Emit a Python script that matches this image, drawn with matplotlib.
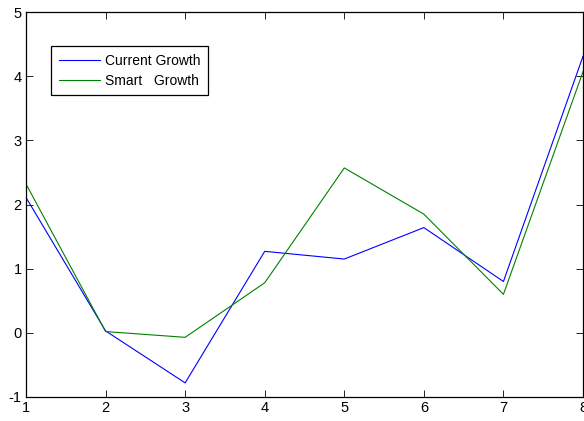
import matplotlib
matplotlib.use("Agg")
import matplotlib.pyplot as plt

# values
x = [1, 2, 3, 4, 5, 6, 7, 8]
current = [2.11, 0.03, -0.78, 1.27, 1.15, 1.64, 0.80, 4.31]
smart = [2.32, 0.02, -0.07, 0.78, 2.57, 1.85, 0.60, 4.07]

xticks = [1, 2, 3, 4, 5, 6, 7, 8]
yticks = [-1, 0, 1, 2, 3, 4, 5]

plt.rcParams['font.family'] = ['Liberation Sans', 'DejaVu Sans']
plt.rcParams['font.size'] = 10
plt.rcParams['axes.unicode_minus'] = False

fig = plt.figure(figsize=(5.84, 4.21), dpi=100)
ax = fig.add_axes([26/584, 24/421, 557/584, 385/421])

ax.plot(x, current, color='#0000ff', lw=0.8, label='Current Growth')
ax.plot(x, smart, color='#008000', lw=0.8, label='Smart   Growth')

ax.set_xlim(1, 8)
ax.set_ylim(-1, 5)
ax.set_xticks(xticks)
ax.set_yticks(yticks)
ax.tick_params(direction='in', length=5, width=0.6, top=True, right=True, pad=3,
               labelsize=10.5)
for s in ax.spines.values():
    s.set_linewidth(0.9)

leg = ax.legend(loc='upper left', bbox_to_anchor=(0.045, 0.912), borderaxespad=0,
                fancybox=False, edgecolor='black', framealpha=1,
                handlelength=3.0, handletextpad=0.3, borderpad=0.55, labelspacing=0.45)
leg.get_frame().set_linewidth(0.9)

fig.savefig('out.png', dpi=100)
